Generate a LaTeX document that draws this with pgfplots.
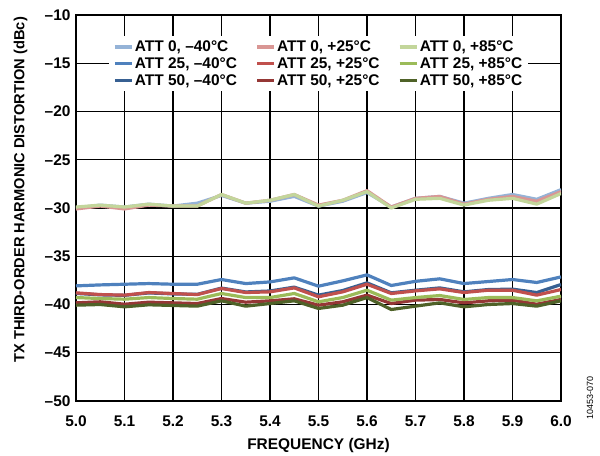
\documentclass[border=0pt]{standalone}
\usepackage{fontspec}
\setmainfont{Liberation Sans}
\usepackage{pgfplots}
\usepackage{pgfplotstable}
\pgfplotsset{compat=1.18}
\definecolor{bA}{HTML}{95B3D7}
\definecolor{bB}{HTML}{4F81BD}
\definecolor{bC}{HTML}{376092}
\definecolor{rA}{HTML}{D99694}
\definecolor{rB}{HTML}{C0504D}
\definecolor{rC}{HTML}{953735}
\definecolor{gA}{HTML}{C3D69B}
\definecolor{gB}{HTML}{9BBB59}
\definecolor{gC}{HTML}{4F6228}
\pgfplotstableread{
x    bA     bB     bC     rA     rB     rC     gA     gB     gC
5.00 -30.0 -38.07 -38.85 -30.1 -38.79 -39.83 -29.9 -39.28 -40.07
5.05 -29.7 -37.97 -39.00 -29.8 -38.97 -39.72 -29.7 -39.38 -40.00
5.10 -29.9 -37.90 -39.05 -30.1 -39.03 -39.97 -29.9 -39.45 -40.24
5.15 -29.6 -37.83 -38.80 -29.7 -38.76 -39.76 -29.6 -39.28 -40.03
5.20 -29.8 -37.90 -38.90 -29.8 -38.86 -39.83 -29.8 -39.38 -40.10
5.25 -29.5 -37.90 -38.95 -29.8 -38.97 -39.90 -29.8 -39.45 -40.17
5.30 -28.7 -37.41 -38.30 -28.6 -38.34 -39.38 -28.6 -38.86 -39.62
5.35 -29.5 -37.83 -38.70 -29.5 -38.76 -39.76 -29.5 -39.28 -40.17
5.40 -29.3 -37.66 -38.60 -29.2 -38.69 -39.62 -29.2 -39.28 -39.90
5.45 -28.8 -37.24 -38.20 -28.6 -38.28 -39.41 -28.6 -38.86 -39.62
5.50 -29.8 -38.10 -39.03 -29.7 -39.20 -40.07 -29.8 -39.72 -40.41
5.55 -29.3 -37.55 -38.55 -29.2 -38.69 -39.72 -29.2 -39.28 -40.07
5.60 -28.4 -36.93 -37.76 -28.2 -37.90 -39.03 -28.3 -38.52 -39.28
5.65 -29.9 -38.03 -38.79 -29.9 -38.86 -39.90 -30.0 -39.55 -40.52
5.70 -29.0 -37.60 -38.52 -29.0 -38.59 -39.55 -29.1 -39.28 -40.17
5.75 -28.8 -37.34 -38.28 -28.8 -38.38 -39.48 -29.0 -39.07 -39.83
5.80 -29.5 -37.83 -38.69 -29.6 -38.76 -39.83 -29.7 -39.48 -40.24
5.85 -29.0 -37.62 -38.45 -29.1 -38.52 -39.62 -29.2 -39.28 -40.00
5.90 -28.6 -37.41 -38.41 -28.8 -38.52 -39.55 -29.0 -39.28 -39.90
5.95 -29.1 -37.72 -38.76 -29.3 -39.03 -39.97 -29.6 -39.62 -40.17
6.00 -28.1 -37.14 -37.93 -28.3 -38.45 -39.48 -28.5 -39.14 -39.62
}\datatable
\begin{document}
\begin{tikzpicture}
\path[use as bounding box] (-76bp,-55bp) rectangle (524bp,401bp);
\begin{axis}[
  at={(0,0)}, anchor=south west,
  width=485bp, height=386bp, scale only axis,
  xmin=5, xmax=6, ymin=-50, ymax=-10,
  xtick={5.0,5.1,5.2,5.3,5.4,5.5,5.6,5.7,5.8,5.9,6.0},
  xticklabels={5.0,5.1,5.2,5.3,5.4,5.5,5.6,5.7,5.8,5.9,6.0},
  ytick={-50,-45,-40,-35,-30,-25,-20,-15,-10},
  yticklabels={–50,–45,–40,–35,–30,–25,–20,–15,–10},
  grid=major,
  major grid style={black, line width=1.3bp},
  axis line style={black, line width=1.8bp},
  major tick length=0pt,
  tick label style={font=\fontsize{15.5}{18}\selectfont\bfseries},
  xticklabel style={yshift=-11bp},
  yticklabel style={xshift=-2bp},
  xlabel={FREQUENCY (GHz)},
  ylabel={TX THIRD-ORDER HARMONIC DISTORTION (dBc)},
  xlabel style={font=\fontsize{15.5}{18}\selectfont\bfseries, at={(axis description cs:0.5,-0.115)}, anchor=center},
  ylabel style={font=\fontsize{14.7}{17}\selectfont\bfseries, at={(axis description cs:-0.114,0.547)}, anchor=center, rotate=0},
  legend columns=3, transpose legend,
  legend cell align=left,
  legend style={at={(axis description cs:0.5,0.945)}, anchor=north, draw=none, fill=white,
    font=\fontsize{15.5}{17}\selectfont\bfseries,
    inner xsep=4bp, inner ysep=3bp,
    /tikz/every even column/.append style={column sep=17bp},
    row sep=1.5bp,
    nodes={inner sep=1.5bp}},
  legend image code/.code={\draw[#1] (0bp,0bp) -- (17bp,0bp);},
  every axis plot/.append style={line width=3.2bp, line join=round},
]
\addplot[color=bA] table[x=x,y=bA] {\datatable};
\addlegendentry{ATT 0, –40°C}
\addplot[color=bB] table[x=x,y=bB] {\datatable};
\addlegendentry{ATT 25, –40°C}
\addplot[color=bC] table[x=x,y=bC] {\datatable};
\addlegendentry{ATT 50, –40°C}
\addplot[color=rA] table[x=x,y=rA] {\datatable};
\addlegendentry{ATT 0, +25°C}
\addplot[color=rB] table[x=x,y=rB] {\datatable};
\addlegendentry{ATT 25, +25°C}
\addplot[color=rC] table[x=x,y=rC] {\datatable};
\addlegendentry{ATT 50, +25°C}
\addplot[color=gA] table[x=x,y=gA] {\datatable};
\addlegendentry{ATT 0, +85°C}
\addplot[color=gB] table[x=x,y=gB] {\datatable};
\addlegendentry{ATT 25, +85°C}
\addplot[color=gC] table[x=x,y=gC] {\datatable};
\addlegendentry{ATT 50, +85°C}
\end{axis}
\node[rotate=90, font=\fontsize{9}{10}\selectfont] at (514bp,3bp) {10453-070};
\end{tikzpicture}
\end{document}
